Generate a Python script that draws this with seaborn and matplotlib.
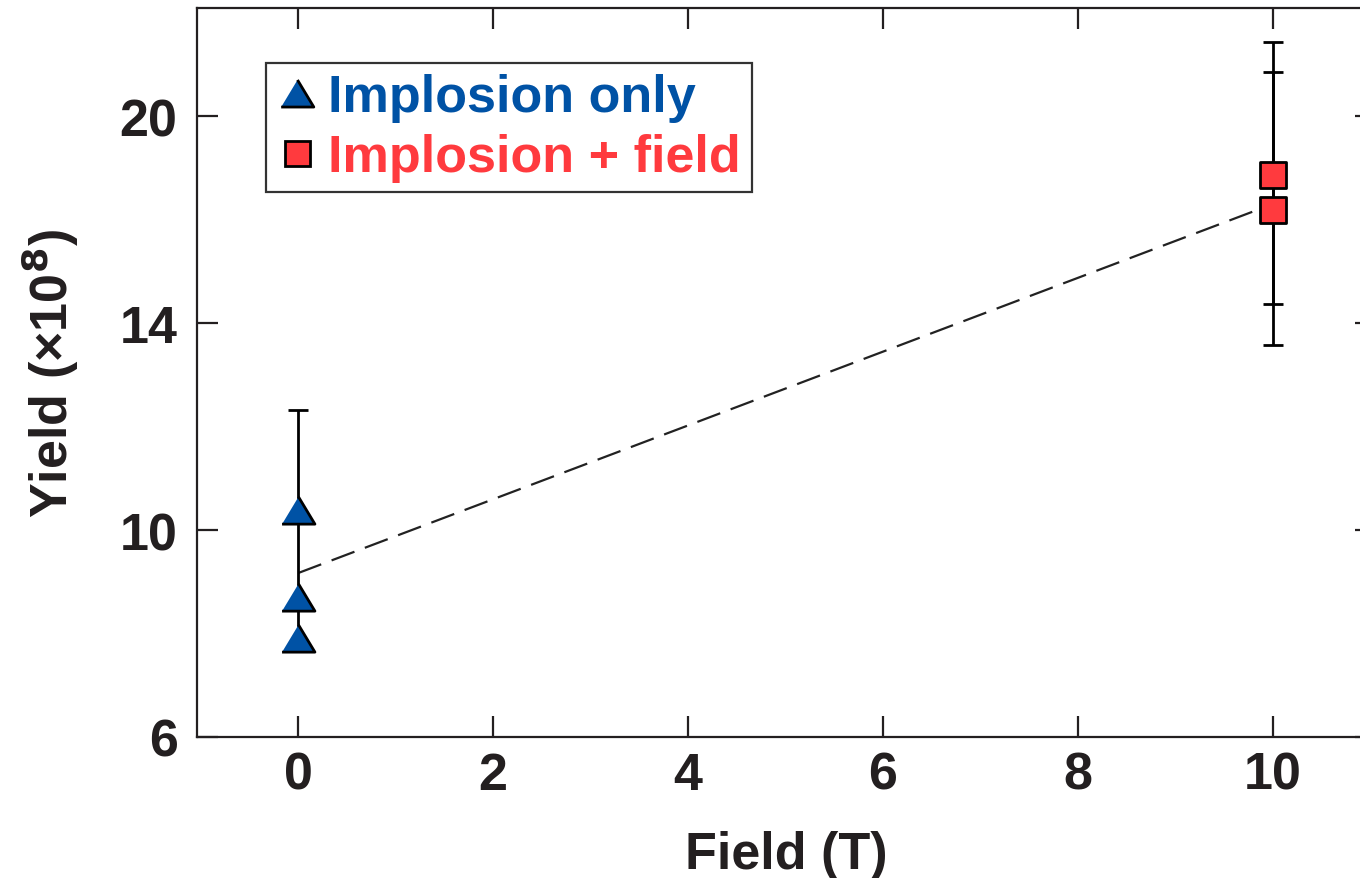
import matplotlib
matplotlib.use("Agg")
import matplotlib.pyplot as plt
import seaborn as sns
import pandas as pd
from matplotlib.lines import Line2D

# ---- data (y in the plot's displayed units) ----
blue_x = [0, 0, 0]
blue_y = [10.38, 8.70, 7.92]
red_x = [10, 10]
red_y = [16.87, 16.18]
# error bars: (x, center, low, high)
err_x = [0, 10, 10]
err_center = [10.38, 16.5, 16.5]
err_low = [7.72, 13.57, 14.37]
err_high = [12.32, 19.43, 18.85]
fit_x = [0, 10]
fit_y = [9.17, 16.30]
xticks = [0, 2, 4, 6, 8, 10]
yticks = [6, 10, 14, 18]
ytick_labels = ["6", "10", "14", "20"]
labels = ["Implosion only", "Implosion + field"]

BLUE = "#0052A5"
RED = "#FF3A3E"

sns.set_theme(style="white")
plt.rcParams["font.family"] = ["Liberation Sans", "DejaVu Sans"]
plt.rcParams["font.weight"] = "bold"
plt.rcParams["mathtext.default"] = "regular"

fig = plt.figure(figsize=(13.6, 8.79), dpi=100)
ax = fig.add_axes([197 / 1360, (879 - 738) / 879, (1376 - 197) / 1360, (738 - 9) / 879])

# dashed fit line
sns.lineplot(x=fit_x, y=fit_y, ax=ax, color="#222222", lw=1.6,
             dashes=False, linestyle=(0, (11, 5)), zorder=2)

# error bars
for x, c, lo, hi in zip(err_x, err_center, err_low, err_high):
    ax.errorbar([x], [c], yerr=[[c - lo], [hi - c]], fmt="none",
                ecolor="black", elinewidth=2, capsize=7.5, capthick=2, zorder=2)

tri = [(-1, -0.83), (1, -0.83), (0, 0.83)]
df = pd.DataFrame({
    "x": blue_x + red_x,
    "y": blue_y + red_y,
    "g": [labels[0]] * len(blue_x) + [labels[1]] * len(red_x),
})
dfb = df[df.g == labels[0]]
dfr = df[df.g == labels[1]]
sns.scatterplot(data=dfb, x="x", y="y", ax=ax, marker=tri, s=560,
                color=BLUE, edgecolor="black", linewidth=2, zorder=3, legend=False)
sns.scatterplot(data=dfr, x="x", y="y", ax=ax, marker="s", s=340,
                color=RED, edgecolor="black", linewidth=2, zorder=3, legend=False)

ax.set_xlim(-1.04, 11.06)
ax.set_ylim(6, 20.09)
ax.set_xticks(xticks)
ax.set_xticklabels([str(t) for t in xticks])
ax.set_yticks(yticks)
ax.set_yticklabels(ytick_labels)

for s in ax.spines.values():
    s.set_visible(True)
    s.set_color("#231f20")
    s.set_linewidth(1.6)

ax.tick_params(axis="both", which="major", direction="in", length=15, width=1.6,
               color="#231f20", labelsize=37.5, labelcolor="#231f20",
               top=True, right=True, bottom=True, left=True)
ax.tick_params(axis="x", pad=10)
ax.tick_params(axis="y", pad=14)
for lab in ax.get_xticklabels() + ax.get_yticklabels():
    lab.set_fontweight("bold")

ax.set_xlabel("Field (T)", fontsize=37.5, fontweight="bold", color="#231f20", labelpad=22)
ax.set_ylabel(r"Yield (×10$^{\mathbf{8}}$)", fontsize=37.5, fontweight="bold",
              color="#231f20", labelpad=28)

handles = [
    Line2D([], [], linestyle="none", marker=tri, markersize=23.5,
           markerfacecolor=BLUE, markeredgecolor="black", markeredgewidth=2),
    Line2D([], [], linestyle="none", marker="s", markersize=18,
           markerfacecolor=RED, markeredgecolor="black", markeredgewidth=2),
]
leg = ax.legend(handles, labels, loc="upper left",
                bbox_to_anchor=((266 - 197) / (1376 - 197), 1 - (64 - 9) / (738 - 9)),
                borderaxespad=0, frameon=True, fancybox=False,
                handlelength=0.8, handletextpad=0.2, labelspacing=0.2,
                borderpad=0.2, prop={"weight": "bold", "size": 37.5})
leg.get_frame().set_edgecolor("black")
leg.get_frame().set_linewidth(1.6)
for t, c in zip(leg.get_texts(), [BLUE, RED]):
    t.set_color(c)

fig.savefig("out.png", dpi=100)
